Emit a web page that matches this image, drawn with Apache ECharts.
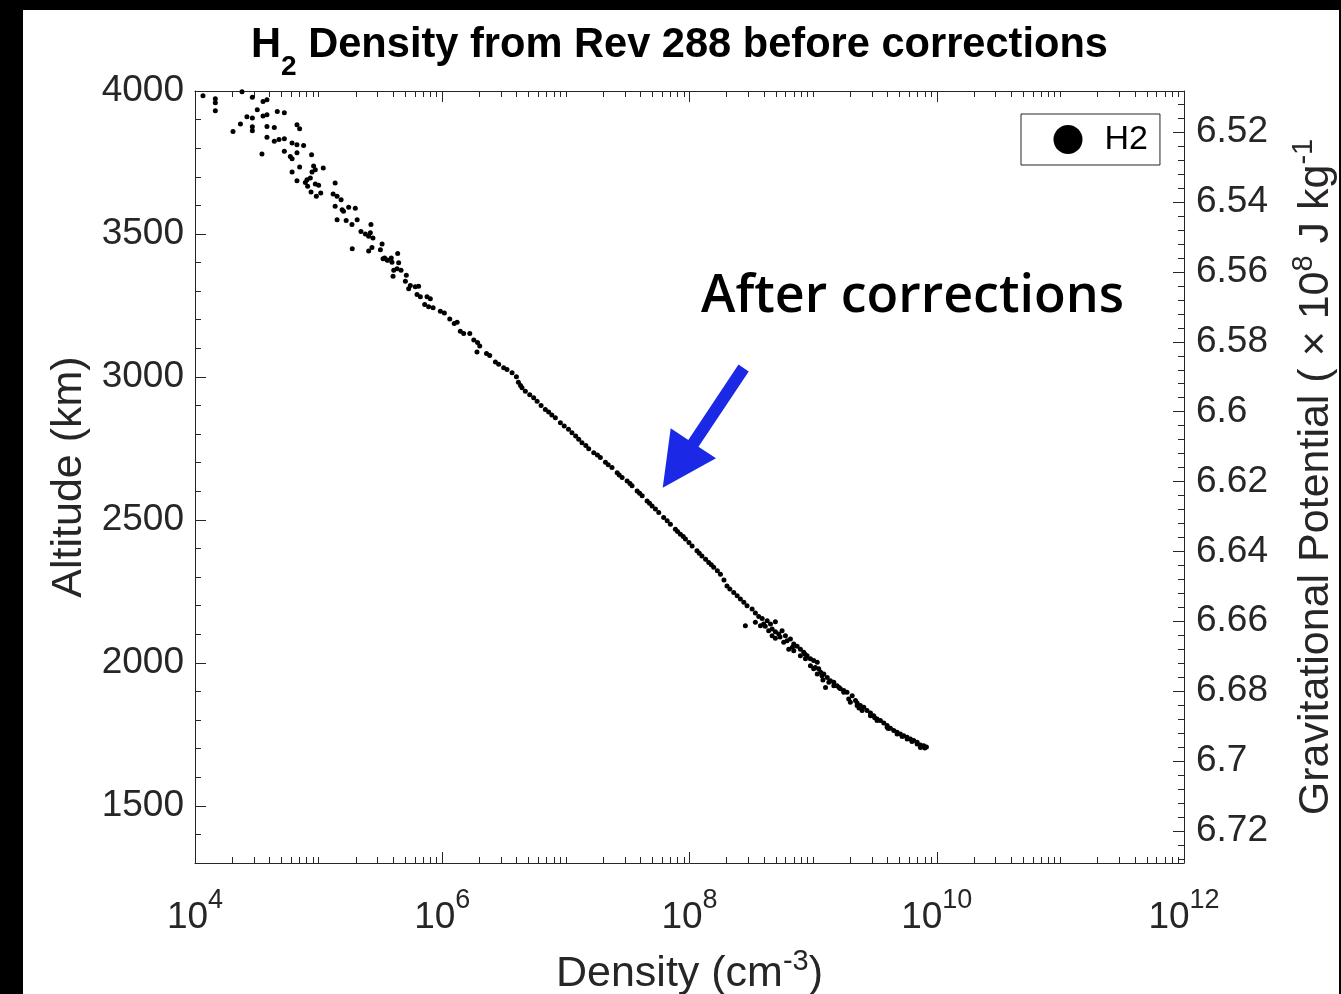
<!DOCTYPE html>
<html>
<head>
<meta charset="utf-8">
<script src="https://cdn.jsdelivr.net/npm/echarts@6/dist/echarts.min.js"></script>
<style>
html,body{margin:0;padding:0;background:#fff;overflow:hidden;}
.frame{position:absolute;background:#000;}
#chart{position:absolute;left:0;top:0;width:1341px;height:994px;}
</style>
</head>
<body>
<div class="frame" style="left:0;top:0;width:23px;height:994px;"></div>
<div class="frame" style="left:0;top:0;width:1341px;height:10px;"></div>
<div class="frame" style="left:1339px;top:0;width:2px;height:994px;"></div>
<div id="chart"></div>
<script>
// ---------------- data: [density (cm^-3), altitude (km)] ----------------
const upperScatter = [
  [1.16e4,3983],[1.46e4,3973],[1.46e4,3959],[1.46e4,3931],[2.4e4,3997],[2.91e4,3978],[3.55e4,3963],[3.82e4,3969],
  [3.19e4,3934],[3.55e4,3913],[3.82e4,3917],[2.63e4,3910],[2.91e4,3906],[4.63e4,3928],[5.28e4,3924],[2.33e4,3885],
  [2.03e4,3858],[2.91e4,3875],[2.91e4,3861],[3.82e4,3876],[4.38e4,3872],[6.68e4,3882],[7.02e4,3868],[3.82e4,3838],
  [4.38e4,3824],[4.78e4,3830],[5.28e4,3833],[6.10e4,3818],[6.68e4,3812],[7.56e4,3809],[5.28e4,3789],[3.48e4,3780],
  [6.68e4,3784],[5.90e4,3771],[6.10e4,3763],[8.77e4,3777],[7.02e4,3734],[6.10e4,3717],[9.11e4,3738],[9.40e4,3725],
  [8.84e4,3717],[1.09e5,3731],[6.68e4,3686],[8.05e4,3690],[8.57e4,3696],[7.81e4,3680],[8.15e4,3667],[9.40e4,3675],
  [1.00e5,3670],[8.68e4,3647],[9.58e4,3632],[1.04e5,3643],[1.36e5,3678],[1.31e5,3640],[1.41e5,3632],[1.52e5,3620],
  [1.36e5,3597],[1.55e5,3585],[1.59e5,3579],[1.75e5,3593],[1.98e5,3590],[1.41e5,3550],[1.67e5,3547],[1.86e5,3533],
  [2.05e5,3550],[2.20e5,3509],[2.39e5,3500],[2.54e5,3492],[2.62e5,3504],[2.65e5,3533],[2.75e5,3486],[1.87e5,3448],
  [2.54e5,3440],[2.70e5,3453],[3.26e5,3465],[3.16e5,3445],[3.42e5,3416],[3.58e5,3409],[3.87e5,3416],[4.36e5,3432],
  [3.32e5,3413],[3.61e5,3408],[3.92e5,3401],[4.44e5,3399],[4.05e5,3373],[4.31e5,3378],[4.64e5,3373],[4.00e5,3352],
  [5.12e5,3356],[5.03e5,3335],[5.52e5,3320],[6.05e5,3315],[6.44e5,3317],[5.35e5,3308],[6.25e5,3288],[6.65e5,3280],
  [7.53e5,3280],[8.01e5,3273],[7.21e5,3253],[7.76e5,3245],[8.43e5,3242],[9.65e5,3230],[1.04e6,3224],[1.15e6,3203],
  [1.25e6,3187],[1.32e6,3191],[1.40e6,3160],[1.49e6,3152],[1.67e6,3152],[1.80e6,3129],[1.93e6,3120],[2.01e6,3108]
];
const middleProfile = [
  [1.91e6,3087],[2.28e6,3082],[2.42e6,3075],[2.69e6,3052],[2.86e6,3044],
  [3.14e6,3032],[3.34e6,3026],[3.67e6,3015],[3.98e6,3001],[4.13e6,2981],[4.30e6,2970],
  [4.42e6,2962],[4.70e6,2950],[5.10e6,2938],[5.49e6,2927],[5.85e6,2915],[6.30e6,2900],[6.82e6,2886],[7.26e6,2877],
  [7.70e6,2867],[8.22e6,2857],[9.03e6,2840],[9.70e6,2828],[1.05e7,2817],[1.12e7,2805],[1.20e7,2793],[1.27e7,2782],
  [1.35e7,2770],[1.45e7,2760],[1.53e7,2749],[1.68e7,2735],[1.80e7,2727],[1.90e7,2718],[2.09e7,2702],[2.20e7,2693],
  [2.36e7,2683],[2.60e7,2665],[2.70e7,2657],[2.85e7,2648],[3.13e7,2636],[3.30e7,2627],[3.43e7,2619],[3.77e7,2601],
  [3.95e7,2593],[4.14e7,2584],[4.54e7,2566],[4.75e7,2558],[4.98e7,2549],[5.30e7,2538],[5.64e7,2526],[6.18e7,2508],
  [6.60e7,2497],[7.01e7,2485],[7.69e7,2467],[8.00e7,2459],[8.44e7,2450],[8.90e7,2442],[9.27e7,2433],[9.90e7,2421],
  [1.05e8,2409],[1.15e8,2392],[1.20e8,2383],[1.26e8,2374],[1.35e8,2362],[1.43e8,2351],[1.50e8,2343],[1.57e8,2334],
  [1.68e8,2322],[1.78e8,2310],[1.90e8,2290],[2.12e8,2258],[2.43e8,2235],[2.75e8,2212]
];
const lowerScatter = [
  [2.01e8,2269],[2.28e8,2246],[2.58e8,2223],[2.92e8,2200],[3.21e8,2188],[3.41e8,2174],[3.63e8,2162],[3.87e8,2155],
  [3.98e8,2136],[4.25e8,2147],[4.52e8,2136],[4.95e8,2144],[4.66e8,2118],[4.95e8,2109],[5.27e8,2101],[5.61e8,2112],
  [5.97e8,2095],[6.16e8,2077],[6.55e8,2083],[6.97e8,2066],[7.42e8,2058],[7.89e8,2048],[8.39e8,2037],[8.94e8,2025],
  [9.51e8,2014],[1.01e9,2008],[1.08e9,2002],[1.04e9,1984],[1.11e9,1979],[1.15e9,1967],[1.22e9,1961],[1.30e9,1949],
  [1.26e9,1914],[1.38e9,1937],[1.47e9,1932],[1.56e9,1920],[1.66e9,1909],[1.77e9,1903],[1.88e9,1897],[1.94e9,1874],
  [2.07e9,1885],[2.20e9,1868],[2.27e9,1860],[2.41e9,1851],[2.57e9,1845],[2.73e9,1833],[2.91e9,1825],[3.09e9,1815],
  [3.29e9,1804],[3.50e9,1798],[3.73e9,1790],[3.97e9,1781],[4.22e9,1771],[4.49e9,1763],[4.78e9,1757],[5.08e9,1751],
  [5.41e9,1745],[5.76e9,1740],[6.12e9,1734],[6.51e9,1728],[6.94e9,1722],[7.38e9,1713],[7.85e9,1710],[8.25e9,1706],
  [2.83e8,2130],[3.75e8,2130],[3.41e8,2142],
  [4.37e8,2112],[4.66e8,2095],[4.95e8,2086],[5.78e8,2072],[6.35e8,2048],[6.97e8,2042],[7.89e8,2025],[8.67e8,2014],
  [9.51e8,1990],[1.01e9,1979],[1.08e9,1961],[1.18e9,1955],[1.34e9,1932],[1.47e9,1920],[1.77e9,1897],[2.00e9,1862],
  [2.27e9,1851],[2.49e9,1833],[2.91e9,1815],[3.29e9,1798],[3.97e9,1775],[4.78e9,1751],[5.76e9,1734],[6.94e9,1716],
  [7.38e9,1704],
  [1.62e9,1914],[2.35e9,1842],[3.15e9,1808],[4.05e9,1770],[5.25e9,1742],[6.30e9,1725],[8.00e9,1702],[1.20e9,1940],
  [8.60e8,2030],[6.80e8,2055],[5.40e8,2090],[4.10e8,2128]
];

// ---------------- axis ticks ----------------
const densityTicks = [1e4, 1e6, 1e8, 1e10, 1e12];
const altitudeTicks = [1500, 2000, 2500, 3000, 3500, 4000];
const potentialTicks = [6.52, 6.54, 6.56, 6.58, 6.6, 6.62, 6.64, 6.66, 6.68, 6.7, 6.72];
const altitudeRange = [1300, 4000];
const potentialRange = [6.5082, 6.7292];
const densityRange = [1e4, 1e12];

// minor tick positions (axis structure)
const densityMinor = [];
for (let e = 4; e < 12; e++) for (let k = 2; k <= 10; k++) {
  const v = k * Math.pow(10, e);
  if (!(k === 10 && (e + 1) % 2 === 0)) densityMinor.push(v);
}
const altitudeMinor = [];
for (let a = 1400; a < 4000; a += 100) if (a % 500 !== 0) altitudeMinor.push(a);
const potentialMinor = [];
for (let i = 0; i <= 60; i++) {
  const v = +(6.512 + 0.004 * i).toFixed(3);
  if (v > potentialRange[1]) break;
  if (Math.round(v * 1000) % 20 !== 0) potentialMinor.push(v);
}

const FONT = "'Liberation Sans', Arial, Helvetica, sans-serif";
const AX = '#262626';
const TICK_FS = 37, NAME_FS = 43;

const lineStyle = { color: AX, width: 1 };
const supRich = {
  a: { fontSize: NAME_FS, lineHeight: NAME_FS, verticalAlign: 'bottom', fontFamily: FONT, color: AX },
  s: { fontSize: 29, lineHeight: 49, padding: [0, 0, 20, 0], verticalAlign: 'top', fontFamily: FONT, color: AX }
};

const xBase = {
  type: 'log', logBase: 10, min: densityRange[0], max: densityRange[1], gridIndex: 0,
  splitLine: { show: false }, minorTick: { show: false }, minorSplitLine: { show: false }
};
const xMajor = (pos, withLabel) => Object.assign({}, xBase, {
  position: pos,
  axisLine: { show: true, onZero: false, lineStyle },
  axisTick: { show: true, inside: true, length: 11, customValues: densityTicks, lineStyle },
  axisLabel: withLabel ? {
    show: true, customValues: densityTicks, margin: 24,
    formatter: v => '{b|10}{s|' + Math.round(Math.log10(v)) + '}',
    rich: {
      b: { fontSize: TICK_FS, lineHeight: TICK_FS, verticalAlign: 'bottom', fontFamily: FONT, color: AX },
      s: { fontSize: 27, lineHeight: 49, padding: [0, 0, 22, 0], verticalAlign: 'top', fontFamily: FONT, color: AX }
    }
  } : { show: false }
});
const xMinor = (pos) => Object.assign({}, xBase, {
  position: pos,
  axisLine: { show: false, onZero: false },
  axisTick: { show: true, inside: true, length: 6, customValues: densityMinor, lineStyle },
  axisLabel: { show: false }
});

const yAlt = {
  type: 'value', min: altitudeRange[0], max: altitudeRange[1], position: 'left', gridIndex: 0,
  splitLine: { show: false },
  axisLine: { show: true, onZero: false, lineStyle },
  axisTick: { show: true, inside: true, length: 11, customValues: altitudeTicks, lineStyle },
  axisLabel: { show: true, customValues: altitudeTicks, margin: 11, fontSize: TICK_FS, fontFamily: FONT, color: AX,
    formatter: v => String(Math.round(v)) },
  name: 'Altitude (km)', nameLocation: 'middle', nameRotate: 90, nameGap: 98,
  nameTextStyle: { fontSize: NAME_FS, fontFamily: FONT, color: AX }
};
const yAltMinor = {
  type: 'value', min: altitudeRange[0], max: altitudeRange[1], position: 'left', gridIndex: 0,
  splitLine: { show: false }, axisLine: { show: false },
  axisTick: { show: true, inside: true, length: 6, customValues: altitudeMinor, lineStyle },
  axisLabel: { show: false }
};
const yPot = {
  type: 'value', min: potentialRange[0], max: potentialRange[1], inverse: true, position: 'right', gridIndex: 0,
  splitLine: { show: false },
  axisLine: { show: true, onZero: false, lineStyle },
  axisTick: { show: true, inside: true, length: 11, customValues: potentialTicks, lineStyle },
  axisLabel: { show: true, customValues: potentialTicks, margin: 12, fontSize: TICK_FS, fontFamily: FONT, color: AX,
    formatter: v => String(+(+v).toFixed(2)) },
  name: '{a|Gravitational Potential ( \u00d7 10}{s|8}{a| J kg}{s|-1}',
  nameLocation: 'middle', nameRotate: 90, nameGap: 105,
  nameTextStyle: { rich: supRich }
};
const yPotMinor = {
  type: 'value', min: potentialRange[0], max: potentialRange[1], inverse: true, position: 'right', gridIndex: 0,
  splitLine: { show: false }, axisLine: { show: false },
  axisTick: { show: true, inside: true, length: 6, customValues: potentialMinor, lineStyle },
  axisLabel: { show: false }
};

const xBottom = xMajor('bottom', true);
xBottom.name = '{a|Density (cm}{s|-3}{a|)}';
xBottom.nameLocation = 'middle';
xBottom.nameGap = 84;
xBottom.nameTextStyle = { rich: supRich };

const chart = echarts.init(document.getElementById('chart'), null, { renderer: 'canvas' });
chart.setOption({
  animation: false,
  backgroundColor: 'transparent',
  title: {
    text: '{b|H}{sub|2}{b| Density from Rev 288 before corrections}',
    left: 251, top: 25, padding: 0,
    textStyle: {
      rich: {
        b: { fontSize: 41.6, fontWeight: 'bold', lineHeight: 42, verticalAlign: 'top', fontFamily: FONT, color: '#000' },
        sub: { fontSize: 28, fontWeight: 'bold', lineHeight: 28, padding: [28, 0, 0, 0], verticalAlign: 'top', fontFamily: FONT, color: '#000' }
      }
    }
  },
  legend: {
    show: true, data: ['H2'], left: 1021, top: 114, orient: 'horizontal',
    icon: 'circle', itemWidth: 63, itemHeight: 29, itemGap: 0,
    padding: [8.5, 12, 8.5, 32.5], borderColor: AX, borderWidth: 1, backgroundColor: '#fff',
    textStyle: { fontSize: 34, lineHeight: 29, fontFamily: FONT, color: '#000' }, selectedMode: false
  },
  grid: { left: 195, right: 157, top: 91, bottom: 131, containLabel: false, outerBoundsMode: 'none' },
  xAxis: [xBottom, xMinor('bottom'), xMajor('top', false), xMinor('top')],
  yAxis: [yAlt, yAltMinor, yPot, yPotMinor],
  series: [{
    type: 'scatter', name: 'H2', xAxisIndex: 0, yAxisIndex: 0,
    data: upperScatter.concat(middleProfile, lowerScatter),
    symbol: 'circle', symbolSize: 5,
    itemStyle: { color: '#000', opacity: 1 }, silent: true, emphasis: { disabled: true }
  }],
  graphic: {
    elements: [
      {
        type: 'text', x: 701, y: 297, z: 100,
        style: { text: 'After corrections', fontFamily: "'Open Sans', Lato, sans-serif", fontWeight: 600,
          fontSize: 52, fill: '#000', align: 'left', verticalAlign: 'middle' }
      },
      {
        type: 'polygon', z: 100,
        shape: { points: [[738.5,364.6],[748.7,371.4],[698.5,446.7],[716,458.3],[662.7,487.7],[670.7,428.3],[688.3,439.9]] },
        style: { fill: '#1b28e6' }
      }
    ]
  }
});
</script>
</body>
</html>
